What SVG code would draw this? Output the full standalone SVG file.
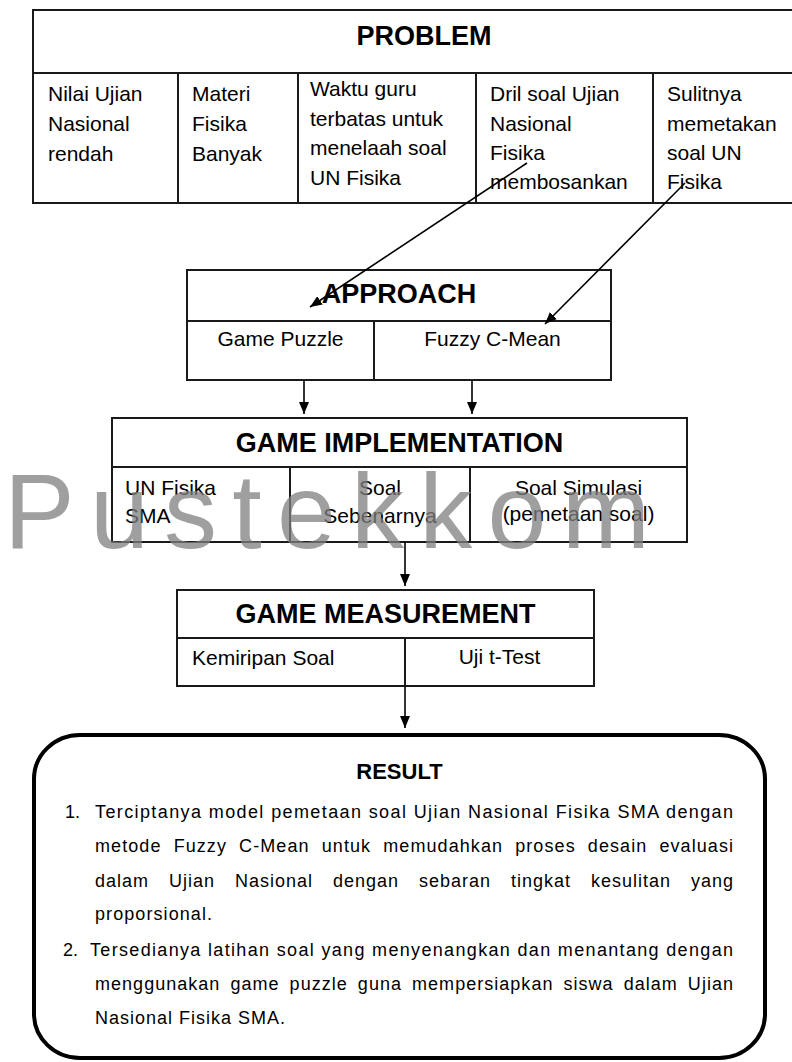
<svg xmlns="http://www.w3.org/2000/svg" width="792" height="1062" viewBox="0 0 792 1062">
<defs>
<style>
.box{fill:#fff;stroke:#1a1a1a;stroke-width:2}
.ln{stroke:#1a1a1a;stroke-width:2;fill:none}
.hd{font-family:"Liberation Sans",Arial,sans-serif;font-weight:bold;font-size:27px;fill:#000;text-anchor:middle}
.tx{font-family:"Liberation Sans",Arial,sans-serif;font-size:21px;fill:#000}
.c{text-anchor:middle}
.it{font-family:"Liberation Sans",Arial,sans-serif;font-size:18px;fill:#000}
.conn{stroke:#000;stroke-width:1.6;fill:none;marker-end:url(#arr)}
</style>
<marker id="arr" markerWidth="12" markerHeight="10" refX="12" refY="5" orient="auto" markerUnits="userSpaceOnUse">
<path d="M0,0 L12,5 L0,10 z" fill="#000"/>
</marker>
</defs>
<rect width="792" height="1062" fill="#fff"/>

<g id="problem">
<rect class="box" x="33" y="10" width="800" height="193"/>
<line class="ln" x1="33" y1="73" x2="792" y2="73"/>
<line class="ln" x1="178" y1="73" x2="178" y2="203"/>
<line class="ln" x1="298" y1="73" x2="298" y2="203"/>
<line class="ln" x1="476" y1="73" x2="476" y2="203"/>
<line class="ln" x1="653" y1="73" x2="653" y2="203"/>
<text class="hd" x="424" y="45">PROBLEM</text>
<text class="tx" x="48" y="101">Nilai Ujian</text>
<text class="tx" x="48" y="131">Nasional</text>
<text class="tx" x="48" y="161">rendah</text>
<text class="tx" x="192" y="101">Materi</text>
<text class="tx" x="192" y="131">Fisika</text>
<text class="tx" x="192" y="161">Banyak</text>
<text class="tx" x="310" y="96">Waktu guru</text>
<text class="tx" x="310" y="126">terbatas untuk</text>
<text class="tx" x="310" y="155">menelaah soal</text>
<text class="tx" x="310" y="185">UN Fisika</text>
<text class="tx" x="490" y="101">Dril soal Ujian</text>
<text class="tx" x="490" y="131">Nasional</text>
<text class="tx" x="490" y="160">Fisika</text>
<text class="tx" x="490" y="189">membosankan</text>
<text class="tx" x="667" y="101">Sulitnya</text>
<text class="tx" x="667" y="131">memetakan</text>
<text class="tx" x="667" y="160">soal UN</text>
<text class="tx" x="667" y="189">Fisika</text>
</g>

<g id="approach">
<rect class="box" x="187" y="270" width="424" height="110"/>
<line class="ln" x1="187" y1="321" x2="611" y2="321"/>
<line class="ln" x1="374" y1="321" x2="374" y2="380"/>
<text class="hd" x="399" y="303">APPROACH</text>
<text class="tx c" x="280.5" y="346">Game Puzzle</text>
<text class="tx c" x="492.5" y="346">Fuzzy C-Mean</text>
</g>

<g id="game-implementation">
<rect class="box" x="112" y="418" width="575" height="124"/>
<line class="ln" x1="112" y1="467" x2="687" y2="467"/>
<line class="ln" x1="290" y1="467" x2="290" y2="542"/>
<line class="ln" x1="470" y1="467" x2="470" y2="542"/>
<text class="hd" x="399.5" y="452">GAME IMPLEMENTATION</text>
<text class="tx" x="125" y="495">UN Fisika</text>
<text class="tx" x="125" y="523">SMA</text>
<text class="tx c" x="380" y="495">Soal</text>
<text class="tx c" x="380" y="523">Sebenarnya</text>
<text class="tx c" x="578.5" y="495">Soal Simulasi</text>
<text class="tx c" x="578.5" y="521">(pemetaan soal)</text>
</g>

<g id="game-measurement">
<rect class="box" x="177" y="590" width="417" height="96"/>
<line class="ln" x1="177" y1="638" x2="594" y2="638"/>
<line class="ln" x1="405" y1="638" x2="405" y2="686"/>
<text class="hd" x="385.5" y="623">GAME MEASUREMENT</text>
<text class="tx" x="192" y="665">Kemiripan Soal</text>
<text class="tx c" x="499.5" y="664">Uji t-Test</text>
</g>

<g id="result">
<rect x="34" y="735" width="731" height="323" rx="46" ry="44" fill="#fff" stroke="#000" stroke-width="4"/>
<text x="399.5" y="779" font-family="'Liberation Sans',Arial,sans-serif" font-weight="bold" font-size="22" text-anchor="middle">RESULT</text>
<text class="it" x="65" y="818">1.</text>
<text class="it" x="95" y="818" textLength="638" lengthAdjust="spacing">Terciptanya model pemetaan soal Ujian Nasional Fisika SMA dengan</text>
<text class="it" x="95" y="852" textLength="638" lengthAdjust="spacing" word-spacing="6">metode Fuzzy C-Mean untuk memudahkan proses desain evaluasi</text>
<text class="it" x="95" y="887" textLength="638" lengthAdjust="spacing" word-spacing="14">dalam Ujian Nasional dengan sebaran tingkat kesulitan yang</text>
<text class="it" x="95" y="920" textLength="117" lengthAdjust="spacing">proporsional.</text>
<text class="it" x="63" y="956">2.</text>
<text class="it" x="90" y="956" textLength="643" lengthAdjust="spacing">Tersedianya latihan soal yang menyenangkan dan menantang dengan</text>
<text class="it" x="95" y="990" textLength="638" lengthAdjust="spacing" word-spacing="4">menggunakan game puzzle guna mempersiapkan siswa dalam Ujian</text>
<text class="it" x="95" y="1024" textLength="190" lengthAdjust="spacing">Nasional Fisika SMA.</text>
</g>

<g id="connectors">
<line class="conn" x1="527" y1="163" x2="310" y2="307"/>
<line class="conn" x1="685" y1="183" x2="545" y2="324"/>
<line class="conn" x1="304" y1="380" x2="304" y2="414"/>
<line class="conn" x1="472" y1="380" x2="472" y2="414"/>
<line class="conn" x1="405" y1="542" x2="405" y2="586"/>
<line class="conn" x1="405" y1="686" x2="405" y2="728"/>
</g>

<g id="watermark">
<text x="4" y="548" font-family="'Liberation Sans',Arial,sans-serif" font-size="106" fill="#7f7f7f" fill-opacity="0.75" textLength="646" lengthAdjust="spacing">Pustekkom</text>
</g>
</svg>
